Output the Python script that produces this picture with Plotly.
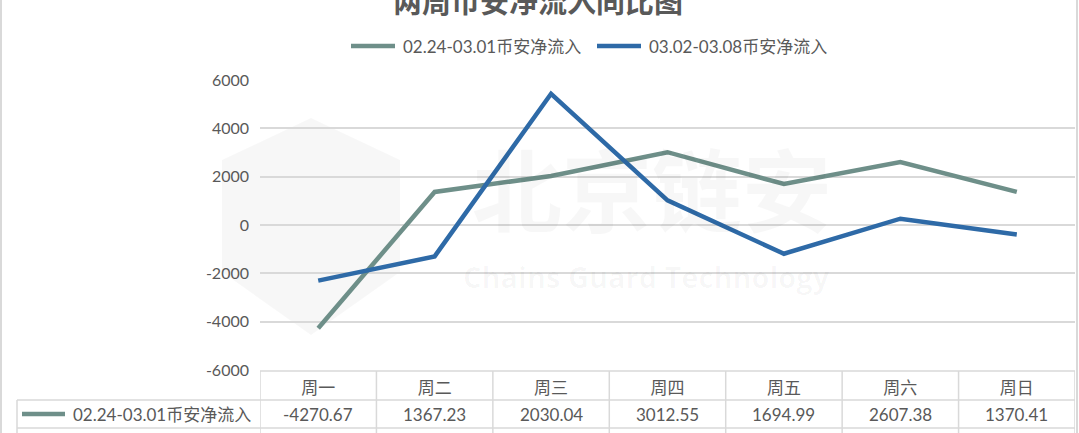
import plotly.graph_objects as go

# ---------------- data ----------------
categories = ["周一", "周二", "周三", "周四", "周五", "周六", "周日"]
series1_name = "02.24-03.01币安净流入"
series1_values = [-4270.67, 1367.23, 2030.04, 3012.55, 1694.99, 2607.38, 1370.41]
series2_name = "03.02-03.08币安净流入"
series2_values = [-2300, -1300, 5430, 1020, -1190, 260, -390]
y_tickvals = [-6000, -4000, -2000, 0, 2000, 4000, 6000]
y_ticktext = ["-6000", "-4000", "-2000", "0", "2000", "4000", "6000"]
title_text = "两周币安净流入同比图"

# ---------------- styling ----------------
W, H = 1079, 433
PL, PR, PT, PB = 260, 1075, 80, 370  # plot area in pixels
C1 = "#6e8f89"
C2 = "#2e6aa7"
GRID = "#d9d9d9"
TXT = "#595959"
FONT = "Lato, 'Noto Sans CJK SC', sans-serif"


def px(x):
    return (x - PL) / (PR - PL)


def py(y):
    return (PB - y) / (PB - PT)


fig = go.Figure()
fig.add_trace(go.Scatter(x=categories, y=series1_values, mode="lines", name=series1_name,
                         line=dict(color=C1, width=4.5), showlegend=False, cliponaxis=False))
fig.add_trace(go.Scatter(x=categories, y=series2_values, mode="lines", name=series2_name,
                         line=dict(color=C2, width=4.5), showlegend=False, cliponaxis=False))

shapes = []
annotations = []

# watermark (very faint)
shield = (f"M {px(311)} {py(118)} L {px(400)} {py(160)} L {px(400)} {py(272)} "
          f"L {px(311)} {py(335)} L {px(222)} {py(272)} L {px(222)} {py(160)} Z")
shapes.append(dict(type="path", xref="paper", yref="paper", path=shield,
                   fillcolor="rgba(0,0,0,0.03)", line=dict(width=0), layer="below"))
annotations.append(dict(text="<b>北京链安</b>", xref="paper", yref="paper", x=px(652), y=py(186),
                        xanchor="center", yanchor="middle", showarrow=False,
                        font=dict(family="'Noto Sans CJK SC'", size=90,
                                  color="rgba(0,0,0,0.03)")))
annotations.append(dict(text="<b>Chains Guard Technology</b>", xref="paper", yref="paper",
                        x=px(646), y=py(276), xanchor="center", yanchor="middle", showarrow=False,
                        font=dict(family="'Open Sans'", size=29, color="rgba(0,0,0,0.03)")))

# title (partially cut at top)
annotations.append(dict(text=f"<b>{title_text}</b>", xref="paper", yref="paper",
                        x=px(538), y=py(0), xanchor="center", yanchor="middle", showarrow=False,
                        font=dict(family="'Noto Sans CJK SC'", size=29, color=TXT)))

# legend (manual)
legend_items = [(series1_name, C1, 351), (series2_name, C2, 597)]
for name, col, x0 in legend_items:
    shapes.append(dict(type="line", xref="paper", yref="paper", x0=px(x0), x1=px(x0 + 44),
                       y0=py(46), y1=py(46), line=dict(color=col, width=4.5)))
    annotations.append(dict(text=name, xref="paper", yref="paper", x=px(x0 + 50), y=py(46),
                            xanchor="left", yanchor="middle", showarrow=False,
                            font=dict(family=FONT, size=17, color=TXT)))

# data table lines
tl = dict(color=GRID, width=1.5)
shapes.append(dict(type="line", xref="paper", yref="paper", x0=px(PL), x1=px(PR), y0=py(371), y1=py(371), line=tl))
for yy in (400, 428):
    shapes.append(dict(type="line", xref="paper", yref="paper", x0=px(17), x1=px(PR), y0=py(yy), y1=py(yy), line=tl))
for i in range(len(categories) + 1):
    shapes.append(dict(type="line", xref="x", yref="paper", x0=i - 0.5, x1=i - 0.5,
                       y0=py(371), y1=py(440), line=tl))
shapes.append(dict(type="line", xref="paper", yref="paper", x0=px(17), x1=px(17),
                   y0=py(400), y1=py(440), line=tl))
# outer frame edges
for xx in (1, 1077):
    shapes.append(dict(type="line", xref="paper", yref="paper", x0=px(xx), x1=px(xx),
                       y0=py(0), y1=py(440), line=dict(color=GRID, width=2)))

# table row 1
shapes.append(dict(type="line", xref="paper", yref="paper", x0=px(22), x1=px(65),
                   y0=py(414), y1=py(414), line=dict(color=C1, width=4.5)))
annotations.append(dict(text=series1_name, xref="paper", yref="paper", x=px(71), y=py(414),
                        xanchor="left", yanchor="middle", showarrow=False,
                        font=dict(family=FONT, size=17, color=TXT)))
for c, v in zip(categories, series1_values):
    annotations.append(dict(text=f"{v:.2f}", xref="x", yref="paper", x=c, y=py(414),
                            xanchor="center", yanchor="middle", showarrow=False,
                            font=dict(family=FONT, size=17, color=TXT)))

fig.update_layout(
    width=W, height=H,
    margin=dict(l=PL, r=W - PR, t=PT, b=H - PB),
    paper_bgcolor="white", plot_bgcolor="white",
    shapes=shapes, annotations=annotations,
    font=dict(family=FONT, color=TXT),
    xaxis=dict(type="category", categoryorder="array", categoryarray=categories,
               range=[-0.5, len(categories) - 0.5], showgrid=False, zeroline=False,
               showline=False, ticks="", tickfont=dict(family=FONT, size=17, color=TXT),
               ticklabelstandoff=6),
    yaxis=dict(range=[-6000, 6000], tickvals=y_tickvals, ticktext=y_ticktext,
               showgrid=True, gridcolor=GRID, gridwidth=1.5, zeroline=True,
               zerolinecolor=GRID, zerolinewidth=1.5, showline=False, ticks="",
               tickfont=dict(family=FONT, size=16, color=TXT), ticklabelstandoff=10),
)

fig.write_html("out.html", config={"displayModeBar": False},
               post_script="document.body.style.margin='0';document.body.style.overflow='hidden';")
